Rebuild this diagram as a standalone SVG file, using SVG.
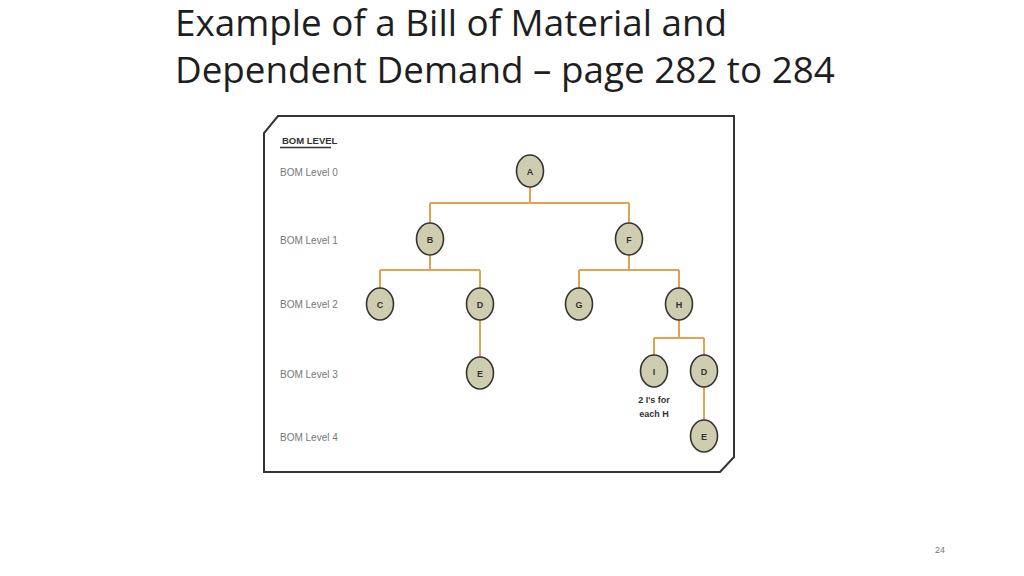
<svg xmlns="http://www.w3.org/2000/svg" width="1024" height="576" viewBox="0 0 1024 576">
<style>
.title{font-family:"Open Sans","Liberation Sans",sans-serif;font-size:36.8px;fill:#1e1e1e;}
.lvl{font-family:"Liberation Sans",sans-serif;font-size:10px;fill:#777;}
.hdr{font-family:"Liberation Sans",sans-serif;font-size:9.5px;font-weight:bold;fill:#333;}
.node ellipse{fill:#cfcdb0;stroke:#333;stroke-width:1.6;}
.node text{font-family:"Liberation Sans",sans-serif;font-size:9px;font-weight:bold;fill:#333;text-anchor:middle;}
.conn path{fill:none;stroke:#e3a24c;stroke-width:2;}
.note{font-family:"Liberation Sans",sans-serif;font-size:9px;font-weight:bold;fill:#333;text-anchor:middle;}
.pg{font-family:"Liberation Sans",sans-serif;font-size:9px;fill:#777;}
</style>
<rect width="1024" height="576" fill="#fff"/>
<text class="title" x="175" y="36">Example of a Bill of Material and</text>
<text class="title" x="175" y="83">Dependent Demand – page 282 to 284</text>
<polygon points="278,116 734,116 734,457 720,472 264,472 264,133" fill="#fff" stroke="#333" stroke-width="2"/>
<text class="hdr" x="282" y="144">BOM LEVEL</text>
<line x1="280" y1="147.5" x2="331" y2="147.5" stroke="#333" stroke-width="1.5"/>
<text class="lvl" x="280" y="176">BOM Level 0</text>
<text class="lvl" x="280" y="244">BOM Level 1</text>
<text class="lvl" x="280" y="308">BOM Level 2</text>
<text class="lvl" x="280" y="378">BOM Level 3</text>
<text class="lvl" x="280" y="441">BOM Level 4</text>
<g id="connectors" class="conn">
<path d="M530,187 V203 M430,203 H629 M430,203 V223 M629,203 V223"/>
<path d="M430,255 V270 M380,270 H480 M380,270 V288 M480,270 V288"/>
<path d="M629,255 V270 M579,270 H679 M579,270 V288 M679,270 V288"/>
<path d="M480,320 V357"/>
<path d="M679,320 V338 M654,338 H704 M654,338 V355 M704,338 V355"/>
<path d="M704,387 V420"/>
</g>
<g id="node-A" class="node"><ellipse cx="530" cy="171" rx="13.5" ry="16"/><text x="530" y="174.5">A</text></g>
<g id="node-B" class="node"><ellipse cx="430" cy="239" rx="13.5" ry="16"/><text x="430" y="242.5">B</text></g>
<g id="node-F" class="node"><ellipse cx="629" cy="239" rx="13.5" ry="16"/><text x="629" y="242.5">F</text></g>
<g id="node-C" class="node"><ellipse cx="380" cy="304" rx="13.5" ry="16"/><text x="380" y="307.5">C</text></g>
<g id="node-D1" class="node"><ellipse cx="480" cy="304" rx="13.5" ry="16"/><text x="480" y="307.5">D</text></g>
<g id="node-G" class="node"><ellipse cx="579" cy="304" rx="13.5" ry="16"/><text x="579" y="307.5">G</text></g>
<g id="node-H" class="node"><ellipse cx="679" cy="304" rx="13.5" ry="16"/><text x="679" y="307.5">H</text></g>
<g id="node-E1" class="node"><ellipse cx="480" cy="373" rx="13.5" ry="16"/><text x="480" y="376.5">E</text></g>
<g id="node-I" class="node"><ellipse cx="654" cy="371" rx="13.5" ry="16"/><text x="654" y="374.5">I</text></g>
<g id="node-D2" class="node"><ellipse cx="704" cy="371" rx="13.5" ry="16"/><text x="704" y="374.5">D</text></g>
<g id="node-E2" class="node"><ellipse cx="704" cy="436" rx="13.5" ry="16"/><text x="704" y="439.5">E</text></g>
<text class="note" x="654" y="403">2 I's for</text>
<text class="note" x="654" y="417">each H</text>
<text class="pg" x="935" y="553">24</text>
</svg>
